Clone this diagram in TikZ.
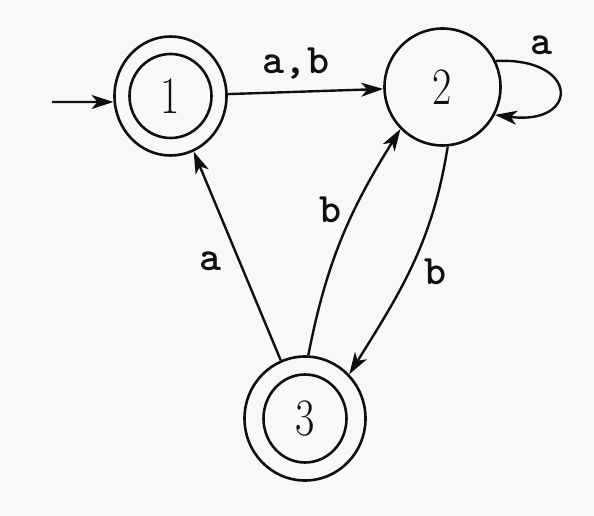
\documentclass[tikz,border=0pt]{standalone}
\usepackage{graphicx}
\usetikzlibrary{arrows.meta,shapes.geometric}
\definecolor{bg}{RGB}{248,248,248}
\definecolor{ink}{RGB}{15,15,15}
\newcommand{\digit}[1]{\scalebox{1}[1.25]{#1}}
\begin{document}
\begin{tikzpicture}[x=1pt,y=-1pt,
  state/.style={ellipse,draw=ink,line width=2.6pt,inner sep=0pt,text=ink,font=\fontsize{42}{44}\selectfont},
  lbl/.style={font=\ttfamily\bfseries\fontsize{42}{44}\selectfont,text=ink},
  edge/.style={draw=ink,line width=2.4pt,-{Stealth[length=22pt,width=14pt,inset=6pt]}}]
\fill[bg] (0,0) rectangle (594,516);
\useasboundingbox (0,0) rectangle (594,516);
\node[state,minimum width=112pt,minimum height=119pt] (n1) at (170.5,96) {};
\node[state,minimum width=82pt,minimum height=84pt] (n1i) at (170.5,96) {\digit{1}};
\node[state,minimum width=116pt,minimum height=117pt] (n2) at (442.5,87) {\digit{2}};
\node[state,minimum width=121pt,minimum height=124pt] (n3) at (305,418.5) {};
\node[state,minimum width=83pt,minimum height=88pt] (n3i) at (305,418.5) {\digit{3}};
\coordinate (s) at (52,102);
\draw[edge] (s) -- (n1.186);
\draw[edge] (n1) -- (n2);
\draw[edge] (n2.26) .. controls (580,57) and (580,126) .. (n2.-28);
\draw[edge] (n3) -- (n1);
\draw[edge] (n3.87) to[out=79,in=238] (n2.225);
\draw[edge] (n2.275) to[out=261,in=58] (n3.45);
\node[lbl] (l12) at (296,64) {a,b};
\node[lbl] (l22) at (542,45) {a};
\node[lbl] (l31) at (211,261) {a};
\node[lbl] (l32) at (331,210) {b};
\node[lbl] (l23) at (436,272) {b};
\end{tikzpicture}
\end{document}
